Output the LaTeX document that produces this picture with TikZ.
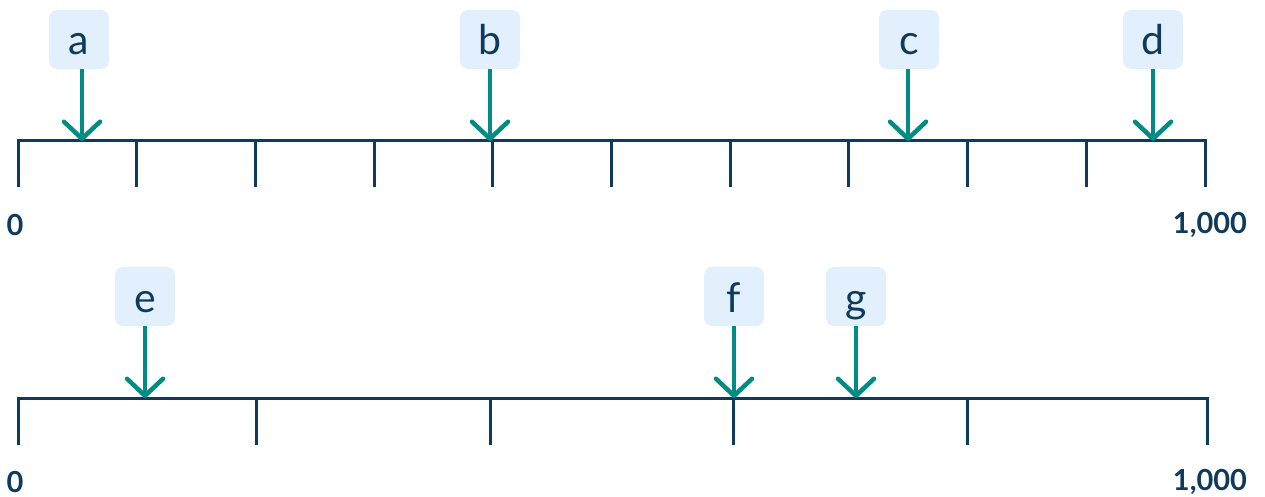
\documentclass[tikz,border=0pt]{standalone}
\usepackage{fontspec}
\setmainfont{Lato}
\usetikzlibrary{arrows.meta}
\definecolor{navy}{HTML}{0E3B5D}
\definecolor{teal}{HTML}{008C84}
\definecolor{boxfill}{HTML}{E2F0FD}
\tikzset{
  axis/.style={draw=navy, line width=3pt},
  tickline/.style={draw=navy, line width=3pt},
  lbl/.style={fill=boxfill, rounded corners=8pt, minimum width=60pt, minimum height=59pt, inner sep=0pt, text=navy, text height=31pt, text depth=0pt, font=\fontsize{41}{41}\selectfont},
  arr/.style={draw=teal, line width=4.5pt, -{Straight Barb[length=17pt,width=36pt,line cap=round,line join=round]}},
  num/.style={text=navy, font=\bfseries\fontsize{29}{29}\selectfont, inner sep=0pt},
}
\begin{document}
\begin{tikzpicture}[x=1pt,y=-1pt]
\useasboundingbox (0,0) rectangle (1265,497);
% top axis
\draw[axis, line join=miter] (18,187) -- (18,141) -- (1205,141) -- (1205,187);
\foreach \i in {1,...,9}{
  \draw[tickline] ({18+\i*118.7},141) -- ({18+\i*118.7},187);
}
\coordinate (topaxis) at (0,141);
\node[num] (z1) at (15,225) {0};
\node[num] (m1) at (1210,225) {1,000};
% bottom axis
\draw[axis, line join=miter] (18,445) -- (18,398) -- (1207,398) -- (1207,445);
\foreach \x in {256,490,733,967}{
  \draw[tickline] (\x,398) -- (\x,445);
}
\coordinate (botaxis) at (0,398);
\node[num] (z2) at (15,482) {0};
\node[num] (m2) at (1210,482) {1,000};
% top labels
\node[lbl] (a) at (79,39.5) {a};
\node[lbl] (b) at (490,39.5) {b};
\node[lbl] (c) at (909,39.5) {c};
\node[lbl] (d) at (1153,39.5) {d};
\draw[arr] ([xshift=3pt]a.south) -- ([xshift=3pt]a.south |- topaxis);
\draw[arr] (b.south) -- (b.south |- topaxis);
\draw[arr] ([xshift=-1pt]c.south) -- ([xshift=-1pt]c.south |- topaxis);
\draw[arr] (d.south) -- (d.south |- topaxis);
% bottom labels
\node[lbl] (e) at (145,296.5) {e};
\node[lbl] (f) at (734,296.5) {f};
\node[lbl] (g) at (856,296.5) {g};
\draw[arr] (e.south) -- (e.south |- botaxis);
\draw[arr] (f.south) -- (f.south |- botaxis);
\draw[arr] (g.south) -- (g.south |- botaxis);
\end{tikzpicture}
\end{document}
